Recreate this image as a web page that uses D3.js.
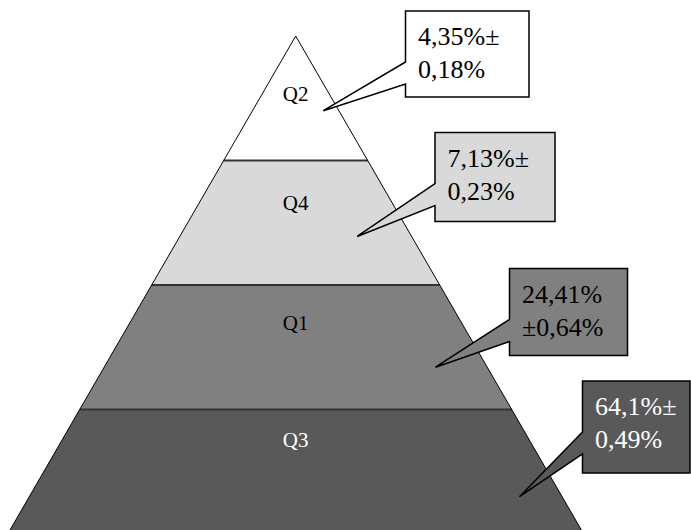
<!DOCTYPE html>
<html>
<head>
<meta charset="utf-8">
<script src="https://cdn.jsdelivr.net/npm/d3@7"></script>
<style>
  body { margin: 0; background: #fff; }
  svg { display: block; }
  svg text { font-family: "Liberation Serif", "DejaVu Serif", serif; }
</style>
</head>
<body>
<svg id="chart" width="691" height="530"></svg>
<script>
// DATA
const categories = ["Q2", "Q4", "Q1", "Q3"];
const shares = [4.35, 7.13, 24.41, 64.1];
const errors = [0.18, 0.23, 0.64, 0.49];
// where the ± sign goes in the callout: end of line 1 or start of line 2
const pmPlacement = ["end", "end", "start", "end"];

// STYLE
const fills = ["#ffffff", "#d9d9d9", "#808080", "#595959"];
const textColors = ["#000", "#000", "#000", "#fff"];

// LAYOUT
const cx = 295.7,
  apexY = 36,
  baseY = 534,
  baseHalf = 288;

// label baseline offset inside each band (fraction of band height)
const labelPos = [0.52, 0.4, 0.36, 0.3];
// callouts: tip as band fractions, box in pixels
const callouts = [
  { ty: 0.6, tx: 0.64, x: 405.5, y: 11, w: 123.5, h: 86 },
  { ty: 0.61, tx: 0.53, x: 435, y: 132.5, w: 120, h: 89 },
  { ty: 0.66, tx: 0.73, x: 509.5, y: 268.5, w: 118, h: 87 },
  { ty: 0.7, tx: 0.84, x: 582.5, y: 381, w: 107.5, h: 92 },
];

const svg = d3.select("#chart");

const y = d3.scaleBand().domain(categories).range([apexY, baseY]).padding(0);
const halfW = d3.scaleLinear().domain([apexY, baseY]).range([0, baseHalf]);

const fmt = d3.formatLocale({ decimal: ",", thousands: ".", grouping: [3], currency: ["", ""] });
const num = (v) => fmt.format(",")(v).replace(/\./g, "");

const rows = categories.map((c, i) => ({
  cat: c,
  share: shares[i],
  err: errors[i],
  top: y(c),
  bottom: y(c) + y.bandwidth(),
  fill: fills[i],
  color: textColors[i],
  pm: pmPlacement[i],
  co: callouts[i],
  lab: labelPos[i],
}));

const g = svg.append("g");

// bands
g.selectAll("path.band")
  .data(rows)
  .join("path")
  .attr("class", "band")
  .attr("d", (d) => {
    const t = halfW(d.top), b = halfW(d.bottom);
    return `M${cx - t},${d.top}L${cx + t},${d.top}L${cx + b},${d.bottom}L${cx - b},${d.bottom}Z`;
  })
  .attr("fill", (d) => d.fill)
  .attr("stroke", "none");

// separators
g.selectAll("line.sep")
  .data(rows.slice(1))
  .join("line")
  .attr("class", "sep")
  .attr("x1", (d) => cx - halfW(d.top))
  .attr("x2", (d) => cx + halfW(d.top))
  .attr("y1", (d) => d.top)
  .attr("y2", (d) => d.top)
  .attr("stroke", "#333")
  .attr("stroke-width", 2);

// outline
g.append("path")
  .attr("d", `M${cx - baseHalf},${baseY}L${cx},${apexY}L${cx + baseHalf},${baseY}`)
  .attr("fill", "none")
  .attr("stroke", "#000")
  .attr("stroke-width", 1);

// band labels
g.selectAll("text.cat")
  .data(rows)
  .join("text")
  .attr("class", "cat")
  .attr("x", cx)
  .attr("y", (d) => d.top + d.lab * y.bandwidth())
  .attr("text-anchor", "middle")
  .attr("font-size", 21)
  .attr("fill", (d) => d.color)
  .text((d) => d.cat);

// callouts
const co = g.selectAll("g.callout").data(rows).join("g").attr("class", "callout");

co.append("path")
  .attr("d", (d) => {
    const c = d.co;
    const tipY = d.top + c.ty * y.bandwidth();
    const tipX = cx + c.tx * halfW(tipY);
    return `M${c.x},${c.y}H${c.x + c.w}V${c.y + c.h}H${c.x}V${c.y + 73}L${tipX},${tipY}L${c.x},${c.y + 51}Z`;
  })
  .attr("fill", (d) => d.fill)
  .attr("stroke", "#000")
  .attr("stroke-width", 1.5)
  .attr("stroke-linejoin", "miter");

co.each(function (d) {
  const lines = d.pm === "end"
    ? [num(d.share) + "%±", num(d.err) + "%"]
    : [num(d.share) + "%", "±" + num(d.err) + "%"];
  const t = d3.select(this)
    .append("text")
    .attr("font-size", 26)
    .attr("fill", d.color);
  t.selectAll("tspan")
    .data(lines)
    .join("tspan")
    .attr("x", d.co.x + 12.5)
    .attr("y", (l, i) => d.co.y + 34 + i * 33)
    .text((l) => l);
});
</script>
</body>
</html>
